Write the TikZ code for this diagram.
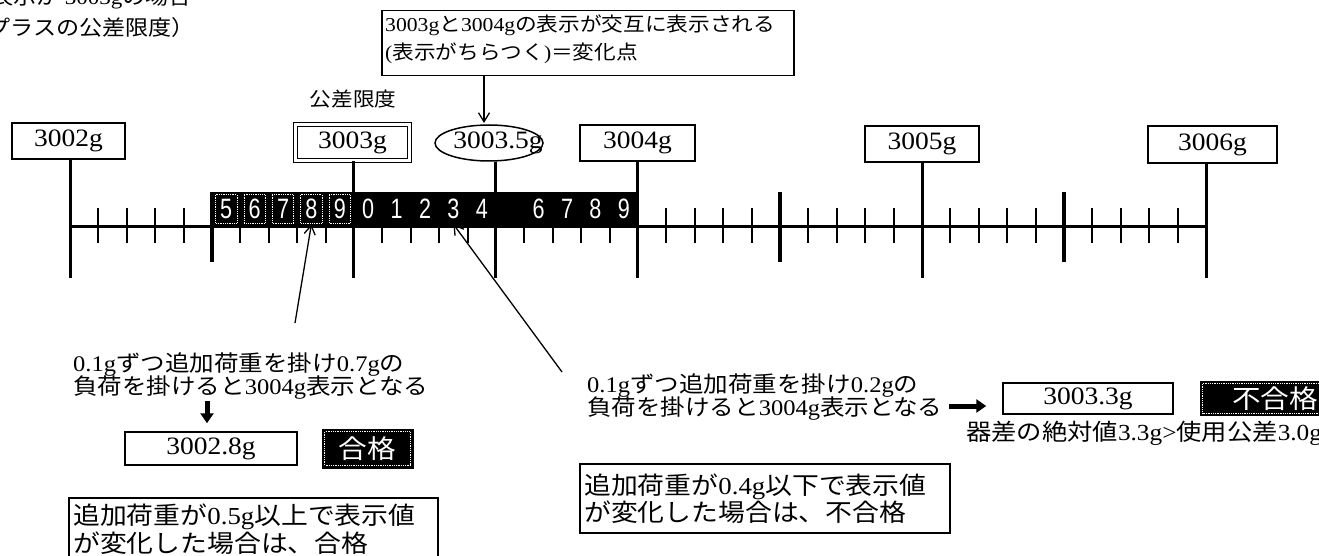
\documentclass[tikz,border=0pt]{standalone}
\usepackage{fontspec}
\setmainfont{Liberation Serif}[FakeStretch=1.1]
\newfontfamily\jpf{Noto Sans CJK JP}[FakeStretch=1.1]
\newfontfamily\bandf{Liberation Sans}[FakeStretch=0.77]
\usetikzlibrary{arrows.meta,shapes.geometric}
\newcount\jpc
\def\jprange#1#2{\jpc=#1\relax
  \loop\XeTeXcharclass\jpc=7\relax\advance\jpc by 1\relax\ifnum\jpc<#2\relax\repeat}
\jprange{"3000}{"3100}
\jprange{"4E00}{"A000}
\jprange{"FF00}{"FFF0}
\XeTeXinterchartoks 0 7 = {\jpf}
\XeTeXinterchartoks 4095 7 = {\jpf}
\XeTeXinterchartoks 7 0 = {\rmfamily}
\XeTeXinterchartoks 4095 0 = {\rmfamily}
\newcommand\mixf[1]{\XeTeXinterchartokenstate=1 \fontsize{#1pt}{#1pt}\selectfont}
\begin{document}
\begin{tikzpicture}[x=1pt,y=-1pt,
  lbl/.style={draw,line width=1.5pt,inner sep=0pt,font=\fontsize{25pt}{25pt}\selectfont},
  boxo/.style={draw,line width=1.5pt,inner sep=0pt},
  major/.style={line width=3pt},
  minor/.style={line width=2pt},
  half/.style={line width=3.5pt},
  arr/.style={line width=1.3pt,-{Straight Barb[length=9pt,width=11pt]}},
  blk/.style={line width=5pt,-{Triangle[length=10pt,width=13pt]}},
  txt/.style={inner sep=0pt,anchor=base west},
  dig/.style={text=white,font=\bandf\fontsize{28pt}{28pt}\selectfont,inner sep=0pt,minimum width=23pt,minimum height=30pt},
  wdot/.style={white,densely dotted,line width=0.8pt},
]
\useasboundingbox (0,0) rectangle (1319,556);
\clip (0,0) rectangle (1319,556);

% top-left cut text
\node[txt,anchor=base east,font=\mixf{21}] (tl1) at (192,5) {（表示が 3003gの場合};
\node[txt,anchor=base east,font=\mixf{21}] (tl2) at (195,36) {（プラスの公差限度）};

% axis
\coordinate (ax0) at (70,226);
\coordinate (ax1) at (1206,226);
\draw[line width=3pt] (ax0) -- (ax1);
\foreach \i in {1,...,39}{
  \pgfmathtruncatemacro\m{mod(\i,10)}
  \pgfmathsetmacro\xx{70+28.4*\i}
  \ifnum\m=5
    \ifnum\i=15\else \draw[half] (\xx,192) -- (\xx,262);\fi
  \else
    \ifnum\m=0\else \draw[minor] (\xx,208) -- (\xx,243);\fi
  \fi
}

% labels
\node[lbl,minimum width=113pt,minimum height=36pt] (l2) at (68.5,141) {3002g};
\node[lbl,double,double distance=2.5pt,line width=1.2pt,minimum width=114pt,minimum height=36pt] (l3) at (352.5,142.5) {3003g};
\node[boxo,ellipse,minimum width=108pt,minimum height=36pt] (l35) at (489,143) {};
\node[inner sep=0pt,font=\fontsize{25pt}{25pt}\selectfont] (l35t) at (498,143) {3003.5g};
\node[lbl,minimum width=115pt,minimum height=36pt] (l4) at (637.5,143) {3004g};
\node[lbl,minimum width=114pt,minimum height=36pt] (l5) at (922,144) {3005g};
\node[lbl,minimum width=129pt,minimum height=37pt] (l6) at (1212.5,144.5) {3006g};
\node[txt,anchor=base,font=\jpf\fontsize{19.7pt}{20pt}\selectfont] (kg) at (353,107) {公差限度};

\foreach \n/\xx in {l2/70,l3/353,l35/495,l4/637,l5/922,l6/1206}{
  \coordinate (tb\n) at (\xx,278);
  \draw[major] (tb\n |- \n.south) -- (tb\n);
}

% black band
\fill (210,192) rectangle (637,227);
\foreach \i/\d in {0/5,1/6,2/7,3/8,4/9,5/0,6/1,7/2,8/3,9/4,11/6,12/7,13/8,14/9}
  \node[dig] (d\i) at (226.2+28.4*\i,209) {\d};
\foreach \i in {0,...,4}
  \draw[wdot] ([shift={(1pt,-1pt)}]d\i.north west) rectangle ([shift={(-1pt,1pt)}]d\i.south east);

% top note
\node[boxo,minimum width=412pt,minimum height=65pt,anchor=north west] (note) at (381,10) {};
\node[txt,font=\mixf{19.7}] (n1) at (385,32) {3003gと3004gの表示が交互に表示される};
\node[txt,font=\mixf{19.7}] (n2) at (385,60) {(表示がちらつく)＝変化点};
\coordinate (nt) at (484,123);
\draw[arr] (note.south -| nt) -- (nt);

% left case
\coordinate (a1) at (295,323);
\draw[arr] (a1) -- (d3.south);
\node[txt,font=\mixf{22.3}] (ta1) at (73,371) {0.1gずつ追加荷重を掛け0.7gの};
\node[txt,font=\mixf{22.3}] (ta2) at (73,394) {負荷を掛けると3004g表示となる};
\node[lbl,minimum width=172pt,minimum height=33pt] (r28) at (211,448.5) {3002.8g};
\coordinate (da0) at (207,401);
\draw[blk] (da0) -- (da0 |- r28.north) [shorten >=8pt];
\node[fill=black,draw=black,minimum width=91pt,minimum height=39pt,inner sep=0pt,text=white,font=\jpf\fontsize{26pt}{26pt}\selectfont] (ok) at (367.5,448.5) {合格};
\draw[wdot] ([shift={(3pt,-3pt)}]ok.north west) rectangle ([shift={(-3pt,3pt)}]ok.south east);
\node[boxo,minimum width=369pt,minimum height=90pt,anchor=north west] (bA) at (68,497) {};
\node[txt,font=\mixf{24.4}] (bA1) at (73,524) {追加荷重が0.5g以上で表示値};
\node[txt,font=\mixf{24.4}] (bA2) at (73,552) {が変化した場合は、合格};

% right case
\coordinate (b1) at (562,372);
\draw[arr] (b1) -- (d8.south);
\node[txt,font=\mixf{22.3}] (tb1) at (587,392) {0.1gずつ追加荷重を掛け0.2gの};
\node[txt,font=\mixf{22.3}] (tb2) at (587,415) {負荷を掛けると3004g表示となる};
\node[lbl,minimum width=170pt,minimum height=31pt] (r33) at (1088,398.5) {3003.3g};
\coordinate (ra0) at (949,406);
\draw[blk] (ra0) -- (ra0 -| r33.west) [shorten >=16pt];
\node[fill=black,minimum width=135pt,minimum height=35pt,inner sep=0pt] (ng) at (1267.5,398.5) {};
\draw[wdot] ([shift={(3pt,-3pt)}]ng.north west) rectangle ([shift={(-3pt,3pt)}]ng.south east);
\node[txt,text=white,font=\jpf\fontsize{26pt}{26pt}\selectfont] (ngt) at (1232,408) {不合格};
\node[txt,font=\mixf{23}] (kisa) at (966,440) {器差の絶対値3.3g>使用公差3.0g};
\node[boxo,minimum width=370pt,minimum height=69pt,anchor=north west] (bB) at (579,463) {};
\node[txt,font=\mixf{24.4}] (bB1) at (584,494) {追加荷重が0.4g以下で表示値};
\node[txt,font=\mixf{24.4}] (bB2) at (584,521) {が変化した場合は、不合格};
\end{tikzpicture}
\end{document}
